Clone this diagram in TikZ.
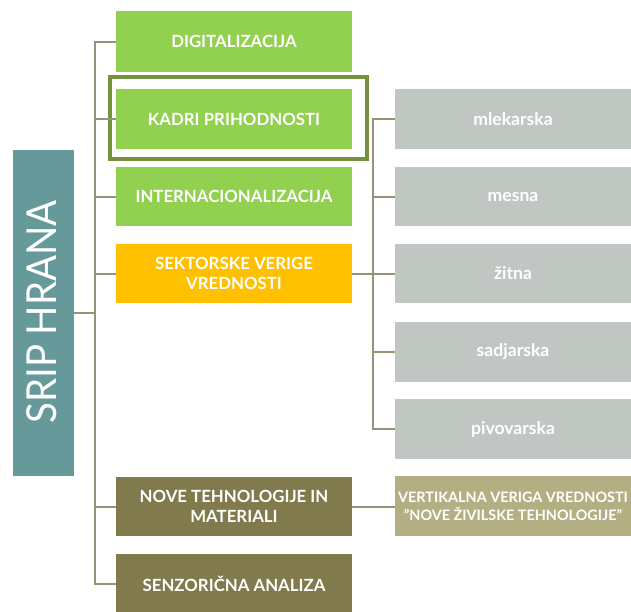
\documentclass[tikz,border=0pt]{standalone}
\usepackage{fontspec}
\setmainfont{Lato}
\definecolor{cgreen}{RGB}{146,208,80}
\definecolor{corange}{RGB}{255,192,0}
\definecolor{colive}{RGB}{128,122,76}
\definecolor{cgrey}{RGB}{192,199,195}
\definecolor{ctan}{RGB}{179,175,130}
\definecolor{cteal}{RGB}{102,153,153}
\definecolor{cline}{RGB}{150,147,118}
\definecolor{cframe}{RGB}{118,146,60}
\begin{document}
\begin{tikzpicture}[x=0.75pt,y=-0.75pt,
  box/.style={inner sep=0pt,text=white,align=center,font=\bfseries\fontsize{12.6}{14.5}\selectfont},
  sub/.style={box,font=\bfseries\fontsize{13.2}{15}\selectfont},
  conn/.style={draw=cline,line width=1.5pt}]
\useasboundingbox (0,0) rectangle (631,611);
% main boxes
\fill[cgreen] (116,11) rectangle (352,72);
\node[box] (dig) at (234,41.5) {DIGITALIZACIJA};
\fill[cgreen] (116,89) rectangle (352,149);
\node[box] (kad) at (234,119) {KADRI PRIHODNOSTI};
\draw[cframe,line width=2.5pt] (110,77) rectangle (367,159);
\fill[cgreen] (116,167) rectangle (352,226);
\node[box] (int) at (234,196.5) {INTERNACIONALIZACIJA};
\fill[corange] (116,244) rectangle (352,303);
\node[box] (sek) at (234,273.5) {SEKTORSKE VERIGE\\VREDNOSTI};
\fill[colive] (116,477) rectangle (352,536);
\node[box] (nov) at (234,506.5) {NOVE TEHNOLOGIJE IN\\MATERIALI};
\fill[colive] (116,554) rectangle (352,613);
\node[box] (sen) at (234,583.5) {SENZORIČNA ANALIZA};
% root
\fill[cteal] (13,150) rectangle (74,476);
\node[box,rotate=90,xscale=0.93,font=\fontsize{31}{34}\selectfont] (root) at (42,312) {SRIP HRANA};
% grey boxes
\foreach \n/\t/\a/\b in {mle/mlekarska/89/149,mes/mesna/167/226,zit/žitna/244/303,sad/sadjarska/322/382,piv/pivovarska/399/459}{
  \fill[cgrey] (395,\a) rectangle (631,\b);
  \node[sub] (\n) at (513,{(\a+\b)/2}) {\t};
}
\fill[ctan] (395,476) rectangle (631,536);
\node[box,font=\bfseries\fontsize{10.8}{13.5}\selectfont] (ver) at (513,506) {VERTIKALNA VERIGA VREDNOSTI\\"NOVE ŽIVILSKE TEHNOLOGIJE"};
% connectors
\coordinate (t1) at (95,41.5);
\coordinate (t2) at (95,583.5);
\coordinate (tr) at (95,313);
\draw[conn] (74,313) -- (tr);
\draw[conn] (116,41.5) -- (t1) -- (t2) -- (116,583.5);
\foreach \y in {119,196.5,273.5,506.5}{\draw[conn] (95,\y) -- (116,\y);}
\coordinate (r1) at (373,119);
\coordinate (r2) at (373,429);
\draw[conn] (352,273.5) -- (373,273.5);
\draw[conn] (395,119) -- (r1) -- (r2) -- (395,429);
\foreach \y in {196.5,273.5,352}{\draw[conn] (373,\y) -- (395,\y);}
\draw[conn] (352,506.5) -- (395,506.5);
\end{tikzpicture}
\end{document}
